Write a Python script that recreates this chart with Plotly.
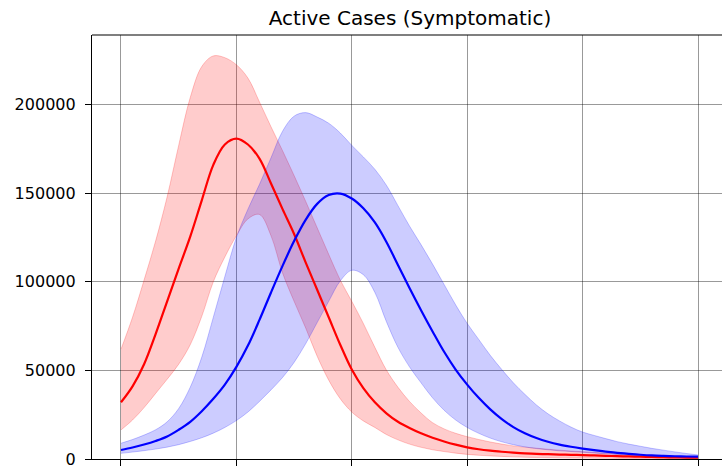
import plotly.graph_objects as go

# Day index of the simulation (every 5 days)
days = list(range(0, 251, 5))

# Scenario A (red): median and uncertainty band of active symptomatic cases
red_mid = [32000, 41000, 53500, 70500, 89000, 107500, 125500, 146000, 166000, 177500,
           180800, 177500, 169500, 155500, 141000, 127000, 111000, 95500, 80000, 64500,
           50500, 40000, 32000, 25800, 21000, 17500, 14500, 12000, 9900, 8100,
           6600, 5500, 4700, 4100, 3600, 3200, 2900, 2700, 2500, 2350,
           2200, 2000, 1800, 1600, 1450, 1300, 1150, 1000, 900, 800, 700]
red_hi = [62000, 80000, 101000, 123000, 148000, 177000, 204000, 221500, 227500, 226500,
          222500, 215000, 201500, 187500, 174000, 160000, 145500, 130500, 115500, 101000,
          89000, 76500, 63000, 50200, 40500, 32500, 26000, 20500, 17000, 14500,
          12600, 11000, 9600, 8400, 7400, 6700, 6100, 5500, 5000, 4500,
          4100, 3700, 3300, 2900, 2600, 2300, 2000, 1700, 1500, 1300, 1100]
red_lo = [16400, 22000, 29000, 37000, 45000, 53500, 64500, 80500, 100000, 114000,
          126000, 135500, 138000, 126000, 105000, 89000, 74000, 58000, 44500, 34000,
          26500, 21500, 17800, 13800, 10800, 8400, 6600, 5200, 4200, 3300,
          2600, 2100, 1750, 1450, 1200, 1000, 850, 750, 650, 550,
          500, 450, 400, 350, 300, 270, 240, 210, 180, 160, 140]

# Scenario B (blue): median and uncertainty band
blue_mid = [5100, 6500, 8200, 10200, 12700, 16500, 21000, 27000, 34000, 42000,
            52000, 64000, 78500, 94000, 109000, 123000, 135000, 144000, 149000, 149800,
            147000, 141500, 133500, 122500, 109500, 96500, 84000, 72000, 60500, 50500,
            42000, 34500, 28000, 22500, 18000, 14500, 11800, 9700, 8100, 6900,
            5900, 5000, 4200, 3500, 2900, 2400, 2000, 1750, 1550, 1400, 1300]
blue_hi = [8900, 11000, 13500, 16500, 21000, 28500, 40500, 57500, 80000, 103000,
           125000, 141000, 155000, 170000, 185000, 193500, 195500, 193000, 189500, 184000,
           177000, 170500, 163500, 154500, 143000, 131500, 121000, 110000, 98500, 87000,
           76500, 67500, 58500, 50500, 43000, 36500, 30500, 25500, 21500, 18000,
           15200, 13300, 11500, 9800, 8400, 7200, 6000, 5000, 4000, 3100, 2300]
blue_lo = [3200, 3900, 4700, 5600, 6700, 8100, 9900, 12000, 14600, 17800,
           21700, 26500, 32500, 39000, 46000, 54500, 65000, 77000, 89000, 100500,
           106500, 104000, 94000, 77500, 63000, 52000, 43000, 34500, 27500, 22000,
           17800, 14500, 11800, 9700, 8100, 6800, 5900, 5200, 4600, 4200,
           3800, 3400, 2900, 2500, 2100, 1700, 1400, 1100, 800, 600, 400]

x_ticks = [0, 50, 100, 150, 200, 250]
y_ticks = [0, 50000, 100000, 150000, 200000]
y_labels = ["0", "50000", "100000", "150000", "200000"]

SMOOTH = 1.0

fig = go.Figure()


def add_band(lo, hi, rgb):
    fill = f"rgba({rgb},0.2)"
    edge = f"rgba({rgb},0.22)"
    fig.add_trace(go.Scatter(x=days, y=lo, mode="lines",
                             line=dict(color=edge, width=1, shape="spline", smoothing=SMOOTH),
                             hoverinfo="skip"))
    fig.add_trace(go.Scatter(x=days, y=hi, mode="lines", fill="tonexty", fillcolor=fill,
                             line=dict(color=edge, width=1, shape="spline", smoothing=SMOOTH),
                             hoverinfo="skip"))


add_band(red_lo, red_hi, "255,0,0")
add_band(blue_lo, blue_hi, "0,0,255")

fig.add_trace(go.Scatter(x=days, y=red_mid, mode="lines",
                         line=dict(color="#ff0000", width=2.2, shape="spline", smoothing=SMOOTH)))
fig.add_trace(go.Scatter(x=days, y=blue_mid, mode="lines",
                         line=dict(color="#0000ff", width=2.2, shape="spline", smoothing=SMOOTH)))

grid = "rgba(0,0,0,0.4)"
fig.update_layout(
    width=722, height=469,
    margin=dict(l=92, r=0, t=35, b=10),
    plot_bgcolor="white", paper_bgcolor="white",
    showlegend=False,
    title=dict(text="Active Cases (Symptomatic)", x=410 / 722, xref="container", xanchor="center",
               y=1 - 18 / 469, yref="container", yanchor="middle",
               font=dict(family="DejaVu Sans", size=20, color="black")),
    font=dict(family="DejaVu Sans", size=16, color="black"),
    xaxis=dict(range=[-12.56, 260.4], tickvals=x_ticks, showticklabels=False,
               ticks="outside", ticklen=6, tickwidth=1.2, tickcolor="black",
               showgrid=True, gridcolor=grid, gridwidth=1.2,
               showline=True, linecolor="black", linewidth=1.2, zeroline=False),
    yaxis=dict(range=[0, 239300], tickvals=y_ticks, ticktext=y_labels,
               ticks="outside", ticklen=6, tickwidth=1.2, tickcolor="black",
               ticklabelstandoff=6,
               showgrid=True, gridcolor=grid, gridwidth=1.2,
               showline=True, linecolor="black", linewidth=1.2, zeroline=False),
    shapes=[dict(type="line", xref="paper", yref="paper", x0=0, x1=1, y0=1, y1=1,
                 line=dict(color="black", width=1.2))],
)

fig.write_html("out.html")
